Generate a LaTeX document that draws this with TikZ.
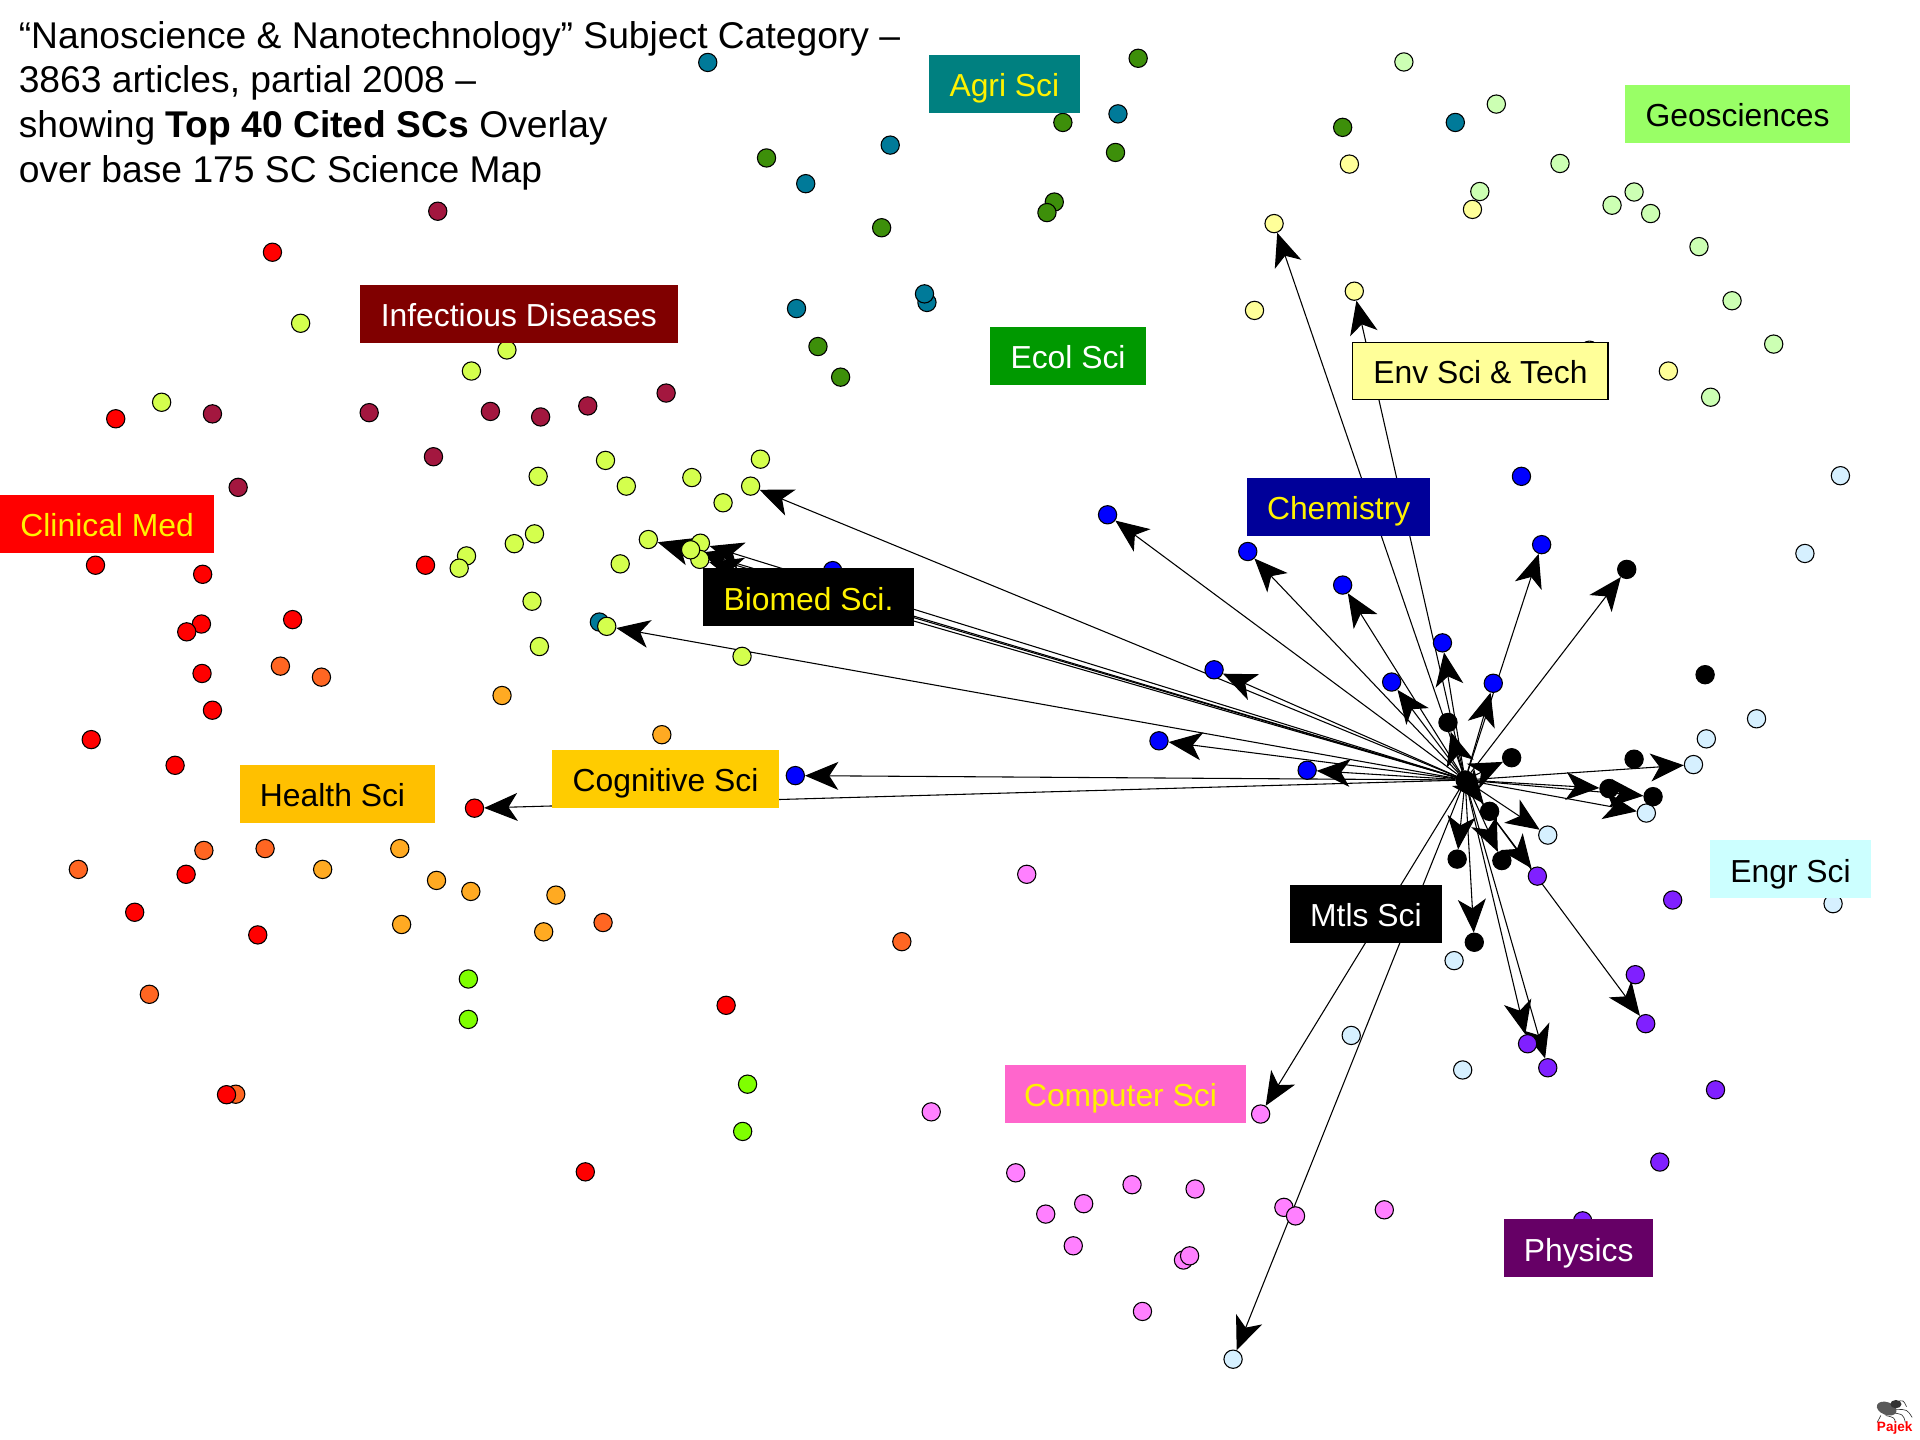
\documentclass[tikz,border=0pt]{standalone}
\usepackage{fontspec}
\setmainfont{Liberation Sans}
\usetikzlibrary{arrows.meta}
\pgfdeclarelayer{edgelayer}
\pgfsetlayers{edgelayer,main}
\definecolor{tealc}{HTML}{007A99}
\definecolor{greenc}{HTML}{3D8F0A}
\definecolor{maroonc}{HTML}{A3173F}
\definecolor{redc}{HTML}{FF0000}
\definecolor{oranc}{HTML}{FF6622}
\definecolor{ambc}{HTML}{FFAA22}
\definecolor{limec}{HTML}{7FFF00}
\definecolor{yelgc}{HTML}{D4FF4D}
\definecolor{payelc}{HTML}{FFFF99}
\definecolor{pagrc}{HTML}{CCFFB3}
\definecolor{bluec}{HTML}{0000FF}
\definecolor{pablc}{HTML}{D6F0FF}
\definecolor{purc}{HTML}{8020FF}
\definecolor{pinkc}{HTML}{FF80FF}
\tikzset{
  dotnode/.style={circle,draw=black,line width=0.5pt,inner sep=0pt,minimum size=8.5pt},
  arc/.style={line width=0.5pt,-{Stealth[length=15.5pt,width=13pt,inset=4.2pt]}},
  lab/.style={rectangle,inner sep=0pt,minimum height=26.9pt,text height=12.5pt,text depth=0.5pt,
    font=\fontsize{14.8}{18}\selectfont},
  ttl/.style={anchor=base west,inner sep=0pt,font=\fontsize{17.3}{21}\selectfont},
}
\def\dotset#1#2#3{\foreach \px/\py [count=\i] in {#3} \node[dotnode,fill=#2] (#1\i) at (\px,\py) {};}
\begin{document}
\begin{tikzpicture}[x=0.02cm,y=-0.02cm]
\useasboundingbox (0,0) rectangle (1568,1176);
% science map
\dotset{teal}{tealc}{578/51,727/118.5,658/150,650.5/252,757/247,755/240,489.5/508,913/93,1188.5/100}
\dotset{grn}{greenc}{626/129,720/186,668/283,686.5/308,929.5/47.6,868/100,911/124.5,861/165,855/173.6,1096.5/104}
\dotset{mar}{maroonc}{357.5/172.5,173.5/338,301.5/337,400.5/336,441.5/340.5,480/331.5,544/321,354/373,194.5/398}
\dotset{oran}{oranc}{229/544,262.5/553,166.5/694.5,216.5/693,64/710,492.5/753.4,736.5/769,122/812,192.5/893.6}
\dotset{red}{redc}{222.5/206,94.5/342,78/461.6,165.5/469,347.5/461.6,164.5/509.6,152.5/516,239/506,165/550,173.5/580,74.5/604,143/625,387.5/660,152/714,110/745,210.5/763.5,593/821,185/894,478/957}
\dotset{amb}{ambc}{410/568,540.5/600,326.5/693,263.5/710,356.5/719,384.5/728,454/731,328/755,444/761}
\dotset{lime}{limec}{382.5/799.5,382.5/832.5,610.5/885.4,606.5/924}
\dotset{yelg}{yelgc}{245.5/264,414/285.8,385/303,132/328.5,439.5/389,494.5/376,511.5/397,565/390,621/375,613/397,590.5/410.6,436.5/436,420/444,381/454,375/464,529.5/440.6,572/443.6,571.5/456.8,564/449,506.5/460.5,434.5/491,495.5/511.5,440.5/528,606/536}
\dotset{payel}{payelc}{1040.5/182.6,1102/134,1202.5/171,1106/237.8,1024.5/253.5,1362.5/303}
\dotset{pagr}{pagrc}{1146.5/50.6,1222/85,1274/133.5,1208.5/156.4,1334.5/156.8,1316.5/167.6,1348/174.4,1387.5/201.4,1414.5/245.6,1448.5/281,1397/324.4,1298/286}
\dotset{blue}{bluec}{1242.5/389,904.5/420.4,1019/450.4,1096.5/477.8,1259/444.8,1178/525,1136.5/557,1219.5/558,991.5/547,946.5/605,1067.5/629,649.5/633.4,680/466}
\dotset{pabl}{pablc}{1503/388.5,1474/452,1434.5/587,1393.5/603.4,1383/624.4,1344.5/664,1264/682,1497/738,1187.5/784.5,1103.5/845.6,1194.5/873.8,1007/1110}
\dotset{pur}{purc}{1255.5/715.5,1366/735,1335.5/796,1344/836,1247.5/852.4,1264/872,1401/890,1355.5/949,1292.5/997}
\dotset{pink}{pinkc}{760.5/908,838.5/714,1029.5/909.8,829.5/957.8,854/991.5,885/983,924.5/967.5,976/971,1048.5/986,1058/993,1130.5/988,876.5/1017.4,966.5/1029,971.5/1025.6,933/1071}
\dotset{blk}{black}{1328.5/465,1392.5/551,1182.5/590,1234.5/618.8,1334.5/620,1314/644,1350/650.6,1216.5/662.6,1190/701.6,1226.5/702.8,1204/769.5}
\node[dotnode,fill=black] (hub) at (1196.5,637) {};
% overlay arrows
\begin{pgfonlayer}{edgelayer}
\foreach \t in {yelg10,yelg16,yelg17,yelg18,yelg19,yelg22,
    blue2,blue3,blue4,blue5,blue6,blue7,blue8,blue9,blue10,blue11,blue12,
    payel1,payel4,red13,pink3,pabl12,pabl5,pabl6,pabl7,
    blk1,blk3,blk4,blk6,blk7,blk8,blk9,blk10,blk11,
    pur1,pur4,pur5,pur6}
  \draw[arc] (hub) -- (\t);
\end{pgfonlayer}
% labels
\node[lab,fill={rgb,255:red,0;green,128;blue,128},text=yellow,minimum width=70.3pt] (agri) at (820.25,68.5) {Agri Sci};
\node[lab,fill={rgb,255:red,128;green,0;blue,0},text=white,minimum width=147.7pt] (infect) at (423.75,256.5) {Infectious Diseases};
\node[lab,fill=red,text=yellow,minimum width=99.6pt] (clin) at (87.5,427.75) {Clinical Med};
\node[lab,fill=black,text=yellow,minimum width=98.2pt] (biomed) at (660.25,487.8) {Biomed Sci.};
\node[lab,fill={rgb,255:red,0;green,153;blue,0},text=white,minimum width=72.5pt] (ecol) at (872.25,290.5) {Ecol Sci};
\node[lab,fill=payelc,draw=black,line width=0.8pt,text=black,minimum width=118.8pt,minimum height=26.6pt] (env) at (1209,303) {Env Sci \& Tech};
\node[lab,fill={rgb,255:red,153;green,255;blue,102},text=black,minimum width=104.7pt] (geo) at (1419,93) {Geosciences};
\node[lab,fill={rgb,255:red,0;green,0;blue,153},text=yellow,minimum width=85.1pt] (chem) at (1093.25,413.8) {Chemistry};
\node[lab,fill={rgb,255:red,255;green,192;blue,0},text=black,minimum width=90.5pt] (health) at (275.5,648.4) {Health Sci\kern4.5pt\kern0pt};
\node[lab,fill={rgb,255:red,255;green,204;blue,0},text=black,minimum width=105.3pt] (cog) at (543.5,636) {Cognitive Sci};
\node[lab,fill=black,text=white,minimum width=70.6pt] (mtls) at (1115.5,746.3) {Mtls Sci};
\node[lab,fill={rgb,255:red,204;green,255;blue,255},text=black,minimum width=74.8pt] (engr) at (1462.25,709.75) {Engr Sci};
\node[lab,fill={rgb,255:red,255;green,102;blue,204},text=yellow,minimum width=112.1pt] (comp) at (919,893.3) {Computer Sci\kern4.5pt\kern0pt};
\node[lab,fill={rgb,255:red,102;green,0;blue,102},text=white,minimum width=69.1pt] (phys) at (1289.25,1019.3) {Physics};
% title
\node[ttl] (title1) at (15,39.4) {“Nanoscience \& Nanotechnology” Subject Category –};
\node[ttl] (title2) at (15,75.8) {3863 articles, partial 2008 –};
\node[ttl] (title3) at (15,112.5) {showing \textbf{Top 40 Cited SCs} Overlay};
\node[ttl] (title4) at (15,149) {over base 175 SC Science Map};
% logo
\draw[line width=0.3pt,black!80] (1549,1144.7) .. controls (1554.4,1143.3) .. (1557,1148.8)
  (1548,1151) .. controls (1557.5,1151) .. (1561.6,1157.6)
  (1544,1153.5) .. controls (1554.4,1155) .. (1556,1161.7)
  (1540,1156) .. controls (1547,1157.6) .. (1548,1161.7)
  (1536,1156) -- (1533,1161.7);
\fill[black!65,rotate around={-20:(1540.8,1150.3)}] (1540.8,1150.3) ellipse (8.4 and 5.2);
\fill[black!80] (1548.3,1146.7) ellipse (4.6 and 3.4);
\node[inner sep=0pt,text=red,font=\fontsize{6.3}{7}\bfseries\selectfont] (pajek) at (1547.3,1166) {Pajek};
\end{tikzpicture}
\end{document}
